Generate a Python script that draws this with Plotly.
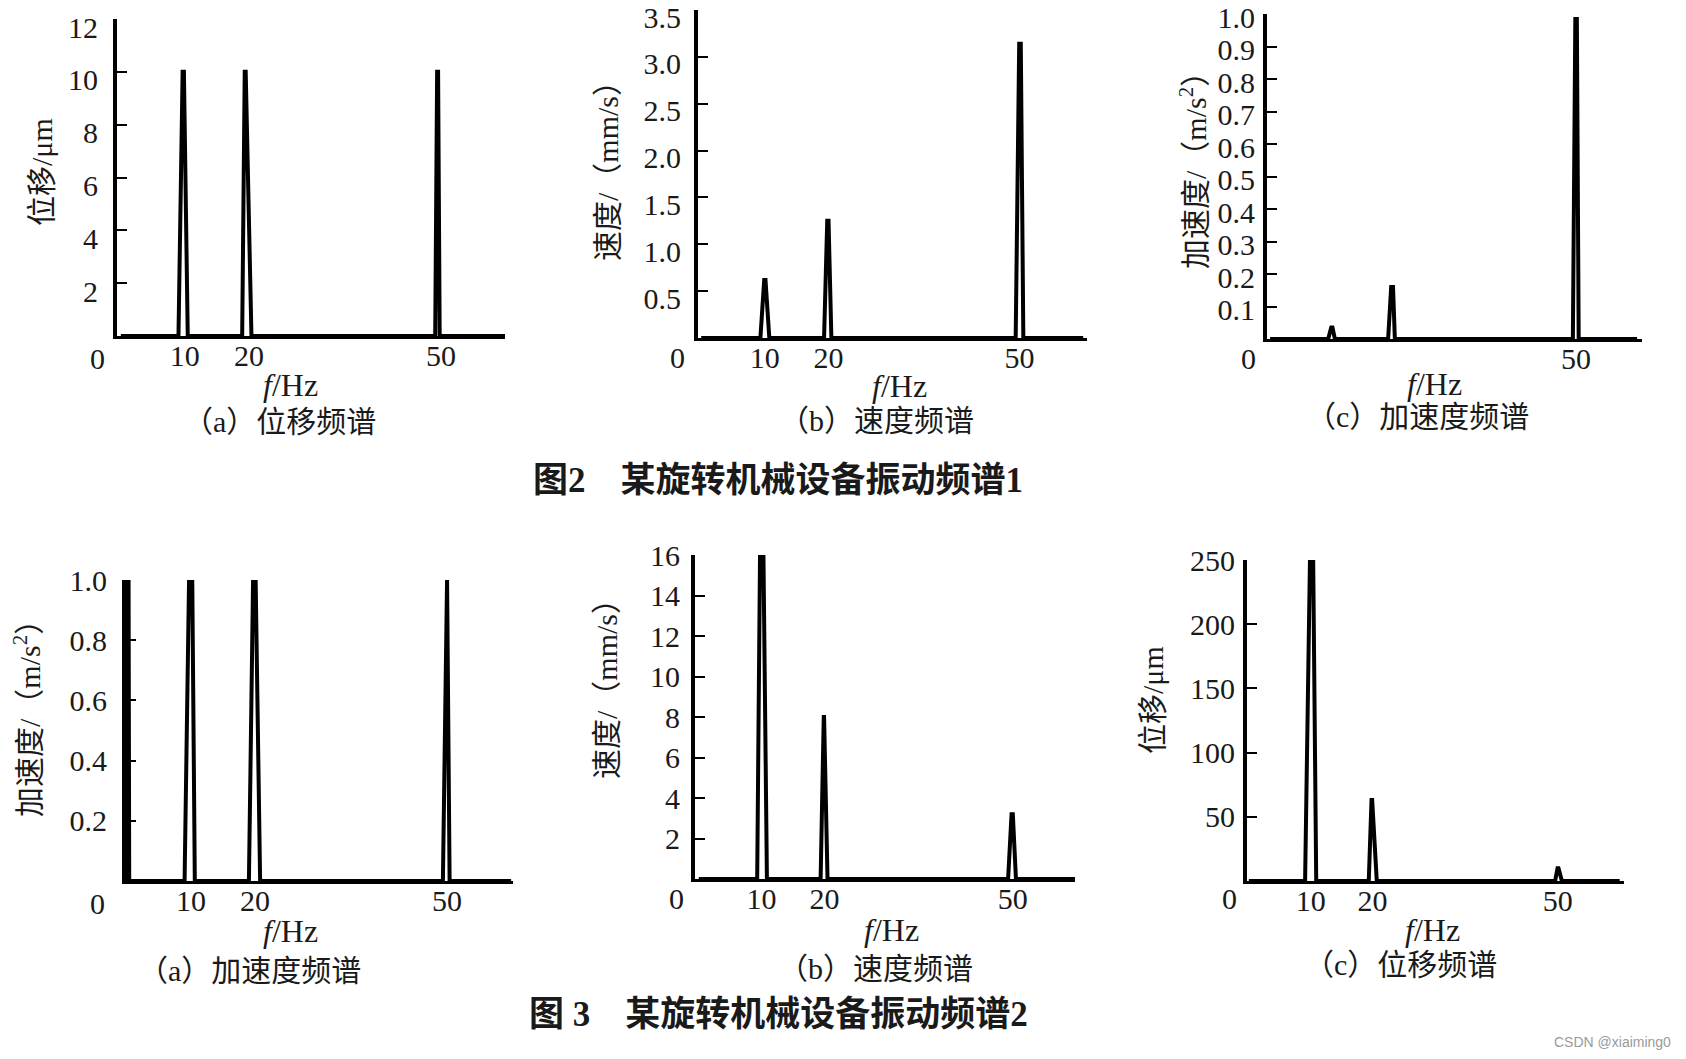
import plotly.graph_objects as go

# ---------------- data ----------------
# Figure 2 (spectrum 1)
fig2a_freq = [0, 9.0, 9.65, 9.85, 10.45, 18.95, 19.35, 19.5, 20.4, 49.1, 49.4, 49.55, 49.8, 60]
fig2a_disp = [0, 0, 10.0, 10.0, 0, 0, 10.0, 10.0, 0, 0, 10.0, 10.0, 0, 0]

fig2b_freq = [0, 9.3, 9.9, 10.1, 10.7, 19.3, 19.8, 20.0, 20.45, 49.4, 49.95, 50.2, 50.6, 60]
fig2b_vel = [0, 0, 0.62, 0.62, 0, 0, 1.25, 1.25, 0, 0, 3.14, 3.14, 0, 0]

fig2c_freq = [0, 9.5, 10.0, 10.2, 10.6, 19.3, 19.8, 20.1, 20.4, 49.5, 49.9, 50.15, 50.45, 60]
fig2c_acc = [0, 0, 0.035, 0.035, 0, 0, 0.16, 0.16, 0, 0, 0.985, 0.985, 0, 0]

# Figure 3 (spectrum 2)
fig3a_freq = [0, 0.05, 0.25, 0.35, 9.0, 9.7, 10.2, 10.6, 19.05, 19.7, 20.1, 20.8, 49.35, 49.9, 50.0, 50.4, 60]
fig3a_acc = [0, 1.0, 1.0, 0, 0, 1.0, 1.0, 0, 0, 1.0, 1.0, 0, 0, 1.0, 1.0, 0, 0]

fig3b_freq = [0, 9.3, 9.75, 10.3, 10.85, 19.4, 19.9, 19.95, 20.5, 49.25, 49.8, 50.0, 50.5, 60]
fig3b_vel = [0, 0, 15.9, 15.9, 0, 0, 8.0, 8.0, 0, 0, 3.2, 3.2, 0, 0]

fig3c_freq = [0, 9.1, 9.9, 10.4, 10.9, 19.4, 19.85, 19.95, 20.7, 49.55, 49.95, 50.1, 50.65, 60]
fig3c_disp = [0, 0, 254, 254, 0, 0, 63, 63, 0, 0, 10, 10, 0, 0]

# tick values / labels
freq_ticks = [10, 20, 50]
freq_ticks_c = [50]
fig2a_yticks = [2, 4, 6, 8, 10, 12]
fig2b_yticks = [0.5, 1.0, 1.5, 2.0, 2.5, 3.0, 3.5]
fig2b_ylabels = ["0.5", "1.0", "1.5", "2.0", "2.5", "3.0", "3.5"]
fig2c_yticks = [0.1, 0.2, 0.3, 0.4, 0.5, 0.6, 0.7, 0.8, 0.9, 1.0]
fig2c_ylabels = ["0.1", "0.2", "0.3", "0.4", "0.5", "0.6", "0.7", "0.8", "0.9", "1.0"]
fig3a_yticks = [0.2, 0.4, 0.6, 0.8, 1.0]
fig3a_ylabels = ["0.2", "0.4", "0.6", "0.8", "1.0"]
fig3b_yticks = [2, 4, 6, 8, 10, 12, 14, 16]
fig3c_yticks = [50, 100, 150, 200, 250]

# texts
title_fig2 = "图2　某旋转机械设备振动频谱1"
title_fig3 = "图 3　某旋转机械设备振动频谱2"
x_title = "<i>f</i>/Hz"
watermark = "CSDN @xiaiming0"

# ---------------- layout helpers ----------------
W, H = 1686, 1059
SERIF = "Liberation Serif, Noto Sans CJK SC, serif"
INK = "#1a1a1a"
TICK_SIZE = 30
LABEL_SIZE = 30


def px(x):
    return x / W


def py(y):
    return 1 - y / H


panels = [
    dict(f=fig2a_freq, a=fig2a_disp, xr=[-0.6, 60.0], yr=[0, 12], box=(117, 505, 19, 336),
         yt=fig2a_yticks, ytxt=[str(v) for v in fig2a_yticks], xt=freq_ticks,
         ylab="位移/μm", ylab_xy=(41, 172), fhz=(290, 385),
         cap="（a）位移频谱", cap_xy=(279, 421), zero=(97, 358), standoff=9, shift=8),
    dict(f=fig2b_freq, a=fig2b_vel, xr=[-0.5, 60.6], yr=[0, 3.5], box=(698, 1087, 10, 338),
         yt=fig2b_yticks, ytxt=fig2b_ylabels, xt=freq_ticks,
         ylab="速度/（mm/s）", ylab_xy=(607, 164), fhz=(900, 386),
         cap="（b）速度频谱", cap_xy=(876, 420), zero=(677, 357), standoff=7, shift=7),
    dict(f=fig2c_freq, a=fig2c_acc, xr=[-0.5, 60.8], yr=[0, 1.0], box=(1267, 1642, 14, 339),
         yt=fig2c_yticks, ytxt=fig2c_ylabels, xt=freq_ticks_c,
         ylab="加速度/（m/s<sup>2</sup>）", ylab_xy=(1193, 163), fhz=(1434, 384),
         cap="（c）加速度频谱", cap_xy=(1417, 417), zero=(1248, 358), standoff=2, shift=3),
    dict(f=fig3a_freq, a=fig3a_acc, xr=[-0.15, 60.3], yr=[0, 1.0], box=(126, 513, 580, 881),
         yt=fig3a_yticks, ytxt=fig3a_ylabels, xt=freq_ticks,
         ylab="加速度/（m/s<sup>2</sup>）", ylab_xy=(27, 711), fhz=(290, 931),
         cap="（a）加速度频谱", cap_xy=(249, 970), zero=(97, 903), standoff=9, shift=0),
    dict(f=fig3b_freq, a=fig3b_vel, xr=[-0.6, 59.9], yr=[0, 16], box=(695, 1075, 555, 879),
         yt=fig3b_yticks, ytxt=[str(v) for v in fig3b_yticks], xt=freq_ticks,
         ylab="速度/（mm/s）", ylab_xy=(606, 682), fhz=(891, 930),
         cap="（b）速度频谱", cap_xy=(875, 968), zero=(676, 898), standoff=5, shift=0),
    dict(f=fig3c_freq, a=fig3c_disp, xr=[-0.3, 60.7], yr=[0, 250], box=(1247, 1624, 560, 881),
         yt=fig3c_yticks, ytxt=[str(v) for v in fig3c_yticks], xt=freq_ticks,
         ylab="位移/μm", ylab_xy=(1152, 700), fhz=(1432, 930),
         cap="（c）位移频谱", cap_xy=(1400, 964), zero=(1229, 898), standoff=2, shift=0),
]

fig = go.Figure()
annotations = []
layout_axes = {}

for i, p in enumerate(panels, start=1):
    sfx = "" if i == 1 else str(i)
    fig.add_trace(go.Scatter(
        x=p["f"], y=p["a"], xaxis="x" + sfx, yaxis="y" + sfx,
        mode="lines", line=dict(color="black", width=4),
        hoverinfo="skip", showlegend=False,
    ))
    x0, x1, y0, y1 = p["box"]
    layout_axes["xaxis" + sfx] = dict(
        domain=[px(x0), px(x1)], range=p["xr"], anchor="y" + sfx,
        showline=True, linecolor="black", linewidth=2.5,
        ticks="", tickvals=p["xt"], ticktext=[str(v) for v in p["xt"]],
        tickfont=dict(family=SERIF, size=TICK_SIZE, color=INK),
        ticklabelstandoff=-9, ticklabeloverflow="allow", automargin=False,
        showgrid=False, zeroline=False, fixedrange=True,
    )
    layout_axes["yaxis" + sfx] = dict(
        domain=[py(y1), py(y0)], range=p["yr"], anchor="x" + sfx,
        showline=True, linecolor="black", linewidth=4,
        ticks="inside", ticklen=10, tickwidth=2, tickcolor="black",
        tickvals=p["yt"], ticktext=p["ytxt"],
        tickfont=dict(family=SERIF, size=TICK_SIZE, color=INK),
        ticklabelstandoff=p["standoff"], ticklabelshift=p["shift"],
        ticklabeloverflow="allow", automargin=False,
        showgrid=False, zeroline=False, fixedrange=True,
    )
    # y-axis title
    annotations.append(dict(
        text=p["ylab"], x=px(p["ylab_xy"][0]), y=py(p["ylab_xy"][1]),
        xref="paper", yref="paper", xanchor="center", yanchor="middle",
        textangle=-90, showarrow=False, font=dict(family=SERIF, size=LABEL_SIZE, color=INK)))
    # x-axis title
    annotations.append(dict(
        text=x_title, x=px(p["fhz"][0]), y=py(p["fhz"][1]),
        xref="paper", yref="paper", xanchor="center", yanchor="middle",
        showarrow=False, font=dict(family=SERIF, size=32, color=INK)))
    # sub caption
    annotations.append(dict(
        text=p["cap"], x=px(p["cap_xy"][0]), y=py(p["cap_xy"][1]),
        xref="paper", yref="paper", xanchor="center", yanchor="middle",
        showarrow=False, font=dict(family=SERIF, size=LABEL_SIZE, color=INK)))
    # origin "0"
    annotations.append(dict(
        text="0", x=px(p["zero"][0]), y=py(p["zero"][1]),
        xref="paper", yref="paper", xanchor="center", yanchor="middle",
        showarrow=False, font=dict(family=SERIF, size=TICK_SIZE, color=INK)))

# figure titles
annotations.append(dict(
    text="<b>" + title_fig2 + "</b>", x=px(778), y=py(480), xref="paper", yref="paper",
    xanchor="center", yanchor="middle", showarrow=False,
    font=dict(family=SERIF, size=35, color=INK)))
annotations.append(dict(
    text="<b>" + title_fig3 + "</b>", x=px(778), y=py(1014), xref="paper", yref="paper",
    xanchor="center", yanchor="middle", showarrow=False,
    font=dict(family=SERIF, size=35, color=INK)))
annotations.append(dict(
    text=watermark, x=px(1673), y=py(1042), xref="paper", yref="paper",
    xanchor="right", yanchor="middle", showarrow=False,
    font=dict(family="Liberation Sans, Arial, sans-serif", size=14, color="#9a9a9a")))

fig.update_layout(
    width=W, height=H, margin=dict(l=0, r=0, t=0, b=0, autoexpand=False),
    paper_bgcolor="white", plot_bgcolor="white",
    showlegend=False, annotations=annotations, **layout_axes,
)

fig.write_html("out.html", config={"displayModeBar": False})
